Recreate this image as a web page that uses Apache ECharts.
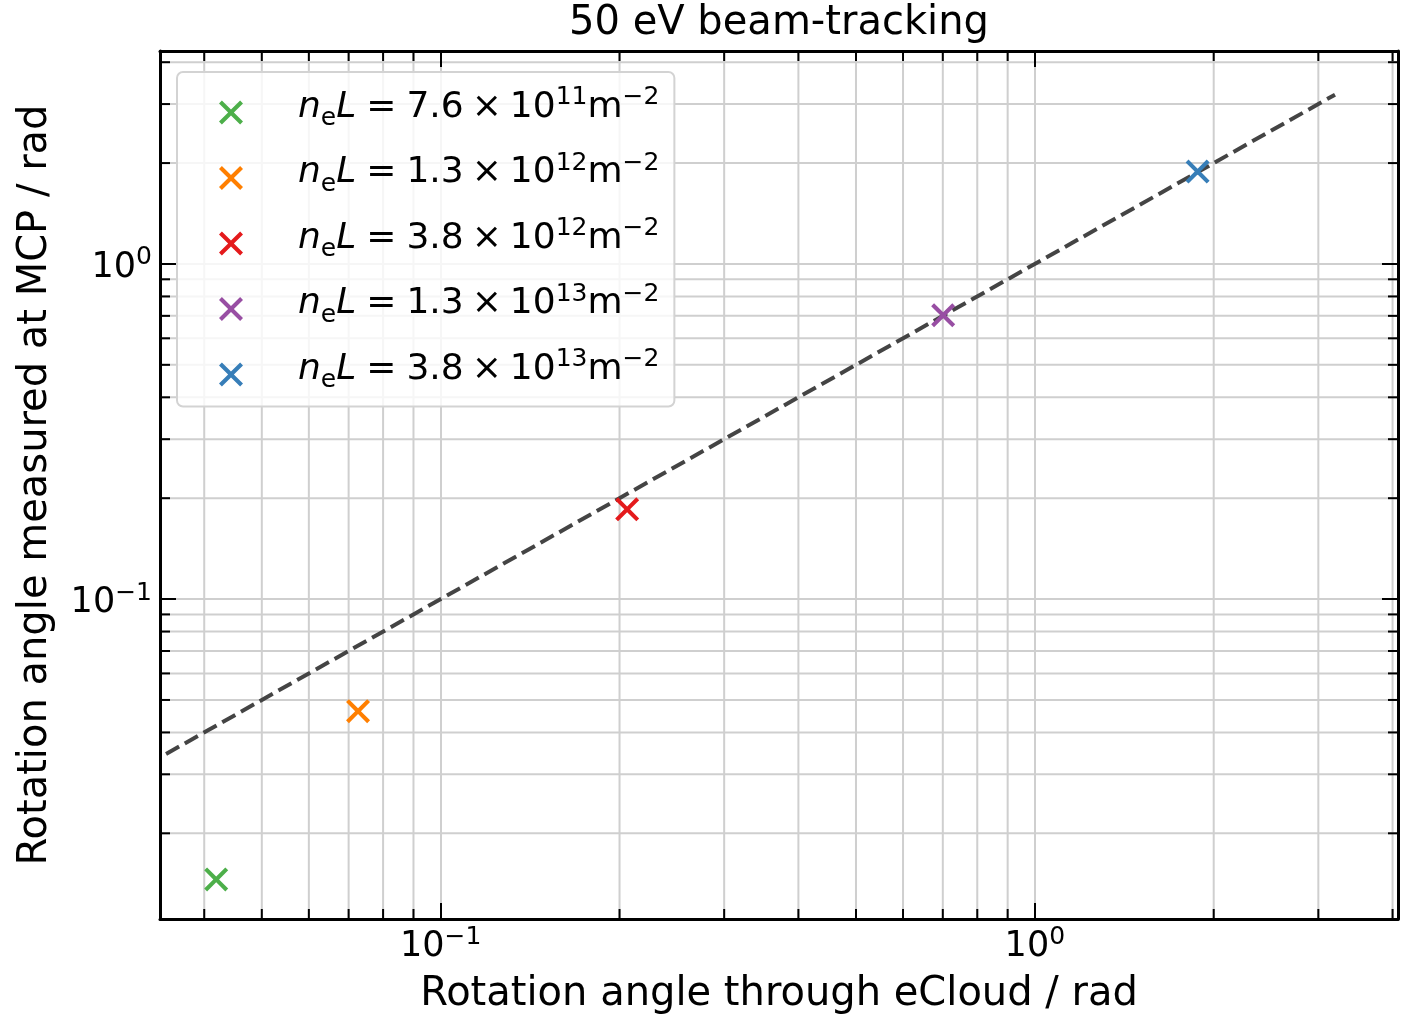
<!DOCTYPE html>
<html>
<head>
<meta charset="utf-8">
<script src="https://cdn.jsdelivr.net/npm/echarts@6/dist/echarts.min.js"></script>
<style>
html,body{margin:0;padding:0;background:#ffffff;}
#chart{width:1401px;height:1015px;}
</style>
</head>
<body>
<div id="chart"></div>
<script>
// ---------------- data ----------------
const titleText = '50 eV beam-tracking';
const xAxisName = 'Rotation angle through eCloud / rad';
const yAxisName = 'Rotation angle measured at MCP / rad';

const xMin = 0.0337, xMax = 4.085;
const yMin = 0.0111, yMax = 4.32;

const seriesCoeff = ['7.6', '1.3', '3.8', '1.3', '3.8'];
const seriesExp = ['11', '12', '12', '13', '13'];
const seriesColors = ['#4daf4a', '#ff7f00', '#e41a1c', '#984ea3', '#377eb8'];
const xValues = [0.0419, 0.0726, 0.206, 0.701, 1.879];
const yValues = [0.01457, 0.0463, 0.1853, 0.703, 1.886];

const fitX = [0.0345, 3.2];
const fitY = [0.0345, 3.2];

const xMinorTicks = [0.04, 0.05, 0.06, 0.07, 0.08, 0.09, 0.2, 0.3, 0.4, 0.5, 0.6, 0.7, 0.8, 0.9, 2, 3, 4];
const yMinorTicks = [0.02, 0.03, 0.04, 0.05, 0.06, 0.07, 0.08, 0.09, 0.2, 0.3, 0.4, 0.5, 0.6, 0.7, 0.8, 0.9, 2, 3, 4];

// ---------------- styles ----------------
const FONT = 'DejaVu Sans';
const GRID_COLOR = '#cfcfcf';
const X_PATH = 'path://M0,1.2L1.2,0L5,3.8L8.8,0L10,1.2L6.2,5L10,8.8L8.8,10L5,6.2L1.2,10L0,8.8L3.8,5Z';

const seriesNames = seriesCoeff.map((c, i) => 'n_eL = ' + c + ' × 10^' + seriesExp[i] + ' m^-2');

function powLabel(v) {
  const l = Math.log10(v);
  const e = Math.round(l);
  if (Math.abs(l - e) > 1e-6) return '';
  return '{b|10}{s|' + (e < 0 ? '−' : '') + Math.abs(e) + '}';
}
const tickRich = {
  b: {fontFamily: FONT, fontSize: 35, lineHeight: 44, height: 44, color: '#000'},
  s: {fontFamily: FONT, fontSize: 25, lineHeight: 24, height: 24, verticalAlign: 'top', color: '#000'}
};

function axisCommon(extra) {
  return Object.assign({
    type: 'log', logBase: 10,
    axisLine: {show: true, onZero: false, lineStyle: {color: '#000', width: 3}},
    axisTick: {show: true, inside: true, length: 16, lineStyle: {color: '#000', width: 2}},
    axisLabel: {show: false},
    splitLine: {show: false},
    minorTick: {show: false},
    minorSplitLine: {show: false},
    z: 10
  }, extra);
}

const xAxes = [
  axisCommon({min: xMin, max: xMax, position: 'bottom',
    name: xAxisName, nameLocation: 'middle', nameGap: 56,
    nameTextStyle: {fontFamily: FONT, fontSize: 40, color: '#000'},
    axisLabel: {show: true, formatter: powLabel, margin: 6, rich: tickRich, showMinLabel: false, showMaxLabel: false}}),
  axisCommon({min: xMin, max: xMax, position: 'top'}),
  axisCommon({min: xMin, max: xMax, position: 'bottom', z: 0,
    axisLine: {show: false}, axisTick: {show: false},
    splitLine: {show: true, lineStyle: {color: GRID_COLOR, width: 2}}})
];
const yAxes = [
  axisCommon({min: yMin, max: yMax, position: 'left',
    name: yAxisName, nameLocation: 'middle', nameGap: 104, nameRotate: 90,
    nameTextStyle: {fontFamily: FONT, fontSize: 40, color: '#000'},
    axisLabel: {show: true, formatter: powLabel, margin: 8, padding: [8, 0, 0, 0], rich: tickRich, showMinLabel: false, showMaxLabel: false}}),
  axisCommon({min: yMin, max: yMax, position: 'right'}),
  axisCommon({min: yMin, max: yMax, position: 'left', z: 0,
    axisLine: {show: false}, axisTick: {show: false},
    splitLine: {show: true, lineStyle: {color: GRID_COLOR, width: 2}}})
];

function vLine(len, color, width) {
  return function (params, api) {
    const x = api.coord([api.value(0), yMin])[0];
    const yb = api.coord([xMin, yMin])[1];
    const yt = api.coord([xMin, yMax])[1];
    if (len == null) {
      return {type: 'line', shape: {x1: x, y1: yb, x2: x, y2: yt}, style: {stroke: color, lineWidth: width}};
    }
    return {type: 'group', children: [
      {type: 'line', shape: {x1: x, y1: yb, x2: x, y2: yb - len}, style: {stroke: color, lineWidth: width}},
      {type: 'line', shape: {x1: x, y1: yt, x2: x, y2: yt + len}, style: {stroke: color, lineWidth: width}}
    ]};
  };
}
function hLine(len, color, width) {
  return function (params, api) {
    const y = api.coord([xMin, api.value(1)])[1];
    const xl = api.coord([xMin, yMin])[0];
    const xr = api.coord([xMax, yMin])[0];
    if (len == null) {
      return {type: 'line', shape: {x1: xl, y1: y, x2: xr, y2: y}, style: {stroke: color, lineWidth: width}};
    }
    return {type: 'group', children: [
      {type: 'line', shape: {x1: xl, y1: y, x2: xl + len, y2: y}, style: {stroke: color, lineWidth: width}},
      {type: 'line', shape: {x1: xr, y1: y, x2: xr - len, y2: y}, style: {stroke: color, lineWidth: width}}
    ]};
  };
}

const series = [
  {type: 'custom', name: 'xMinorGrid', z: 1, silent: true, renderItem: vLine(null, GRID_COLOR, 2),
    data: xMinorTicks.map(v => [v, yMin])},
  {type: 'custom', name: 'yMinorGrid', z: 1, silent: true, renderItem: hLine(null, GRID_COLOR, 2),
    data: yMinorTicks.map(v => [xMin, v])},
  {type: 'custom', name: 'xMinorTick', z: 10, silent: true, renderItem: vLine(10, '#000', 2),
    data: xMinorTicks.map(v => [v, yMin])},
  {type: 'custom', name: 'yMinorTick', z: 10, silent: true, renderItem: hLine(10, '#000', 2),
    data: yMinorTicks.map(v => [xMin, v])},
  {type: 'line', name: 'fit', z: 2, silent: true, symbol: 'none',
    lineStyle: {color: '#444444', width: 4, type: [15, 6.5]},
    data: fitX.map((v, i) => [v, fitY[i]])}
];
seriesNames.forEach((n, i) => {
  series.push({
    type: 'scatter', name: n, z: 3,
    symbol: X_PATH, symbolSize: 24,
    itemStyle: {color: seriesColors[i], opacity: 1},
    data: [[xValues[i], yValues[i]]]
  });
});

function legendFormatter(name) {
  const i = seriesNames.indexOf(name);
  return '{g|}{it|n}{sub|e}{it|L}{w|}{n|=}{w|}{n|' + seriesCoeff[i] + '}{m|}{n|×}{m|}{n|10}{sup|' + seriesExp[i] + '}{n|m}{sup|−2}';
}

const option = {
  animation: false,
  backgroundColor: '#ffffff',
  title: {
    text: titleText, left: 779, textAlign: 'center', top: 4, padding: 0,
    textStyle: {fontFamily: FONT, fontSize: 40, fontWeight: 'normal', color: '#000'}
  },
  grid: {left: 160, top: 51, width: 1238, height: 868, containLabel: false, outerBoundsMode: 'none'},
  legend: {
    data: seriesNames,
    orient: 'vertical', left: 177, top: 72,
    padding: [13, 15, 5, 42],
    itemWidth: 24, itemHeight: 24, itemGap: 11,
    backgroundColor: 'rgba(255,255,255,0.8)',
    borderColor: '#d3d3d3', borderWidth: 2, borderRadius: 6,
    selectedMode: false,
    formatter: legendFormatter,
    textStyle: {
      fontFamily: FONT, fontSize: 36, color: '#000',
      rich: {
        g: {width: 50, height: 54, lineHeight: 54},
        w: {width: 10, height: 44, lineHeight: 44, verticalAlign: 'top'},
        m: {width: 8, height: 44, lineHeight: 44, verticalAlign: 'top'},
        n: {fontFamily: FONT, fontSize: 36, height: 44, lineHeight: 44, verticalAlign: 'top', color: '#000'},
        it: {fontFamily: FONT, fontSize: 36, fontStyle: 'italic', height: 44, lineHeight: 44, verticalAlign: 'top', color: '#000'},
        sub: {fontFamily: FONT, fontSize: 25, height: 42, lineHeight: 42, verticalAlign: 'bottom', color: '#000'},
        sup: {fontFamily: FONT, fontSize: 25, height: 24, lineHeight: 24, verticalAlign: 'top', color: '#000'}
      }
    }
  },
  xAxis: xAxes,
  yAxis: yAxes,
  series: series
};

const chart = echarts.init(document.getElementById('chart'), null, {renderer: 'canvas'});
chart.setOption(option);
</script>
</body>
</html>
